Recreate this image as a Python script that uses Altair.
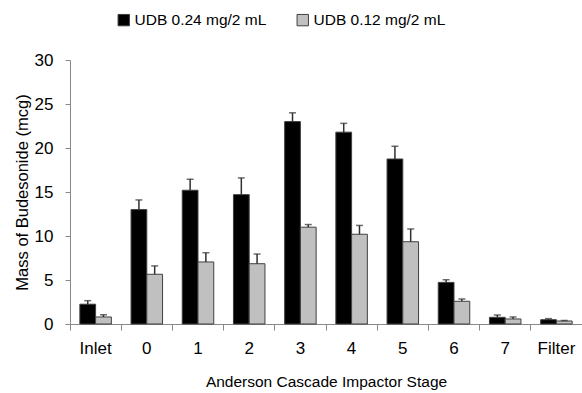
import altair as alt
import pandas as pd

stages = ["Inlet", "0", "1", "2", "3", "4", "5", "6", "7", "Filter"]
series = ["UDB 0.24 mg/2 mL", "UDB 0.12 mg/2 mL"]
high_mean = [2.25, 13.0, 15.2, 14.7, 23.0, 21.8, 18.75, 4.73, 0.76, 0.49]
high_err = [0.4, 1.1, 1.25, 1.9, 1.0, 1.0, 1.45, 0.3, 0.26, 0.12]
low_mean = [0.8, 5.65, 7.05, 6.85, 11.0, 10.2, 9.35, 2.58, 0.57, 0.34]
low_err = [0.25, 0.95, 1.05, 1.1, 0.3, 1.0, 1.45, 0.26, 0.23, 0.06]

rows = []
for i, s in enumerate(stages):
    rows.append({"stage": s, "series": series[0], "mean": high_mean[i], "top": high_mean[i] + high_err[i]})
    rows.append({"stage": s, "series": series[1], "mean": low_mean[i], "top": low_mean[i] + low_err[i]})
df = pd.DataFrame(rows)

FONT = "Liberation Sans"

x_enc = alt.X("stage:N", sort=stages, scale=alt.Scale(paddingInner=0, paddingOuter=0),
              axis=alt.Axis(title="Anderson Cascade Impactor Stage", labelAngle=0, bandPosition=0,
                            labelPadding=10, titlePadding=18, tickSize=6,
                            titleFontSize=15.5))
xo_enc = alt.XOffset("series:N", sort=series, scale=alt.Scale(paddingInner=0, paddingOuter=0.625))
color = alt.Color("series:N", sort=series,
                  scale=alt.Scale(domain=series, range=["#000000", "#c0c0c0"]),
                  legend=alt.Legend(title=None, orient="none", direction="horizontal",
                                    legendX=46, legendY=-48, symbolType="square", symbolSize=130,
                                    symbolStrokeColor="#404040", symbolStrokeWidth=1,
                                    labelFont=FONT, labelFontSize=15.5, columnPadding=28, labelOffset=3))

bars = alt.Chart(df).mark_bar(stroke="#404040", strokeWidth=1).encode(
    x=x_enc, xOffset=xo_enc,
    y=alt.Y("mean:Q", scale=alt.Scale(domain=[0, 30]),
            axis=alt.Axis(title="Mass of Budesonide (mcg)", values=[0, 5, 10, 15, 20, 25, 30],
                          grid=False, tickSize=5, labelPadding=12, titlePadding=4, format="d",
                          titleFontSize=16.5)),
    color=color,
)
err = alt.Chart(df).mark_rule(color="#303030", strokeWidth=1.5).encode(
    x=x_enc, xOffset=xo_enc, y="mean:Q", y2="top:Q")
cap = alt.Chart(df).mark_tick(color="#303030", thickness=1.5, size=7).encode(
    x=x_enc, xOffset=xo_enc, y="top:Q")

chart = alt.layer(bars, err, cap).properties(
    width=512, height=264,
    autosize=alt.AutoSizeParams(type="none"),
    padding={"left": 70, "top": 60, "right": 0, "bottom": 69},
).configure_view(stroke=None).configure_axis(
    domainColor="#888888", tickColor="#888888", labelColor="#000000", titleColor="#000000",
    labelFont=FONT, titleFont=FONT, labelFontSize=17, titleFontWeight="normal",
).configure_legend(labelColor="#000000")

chart.save("out.html", embed_options={"renderer": "svg", "actions": False})
